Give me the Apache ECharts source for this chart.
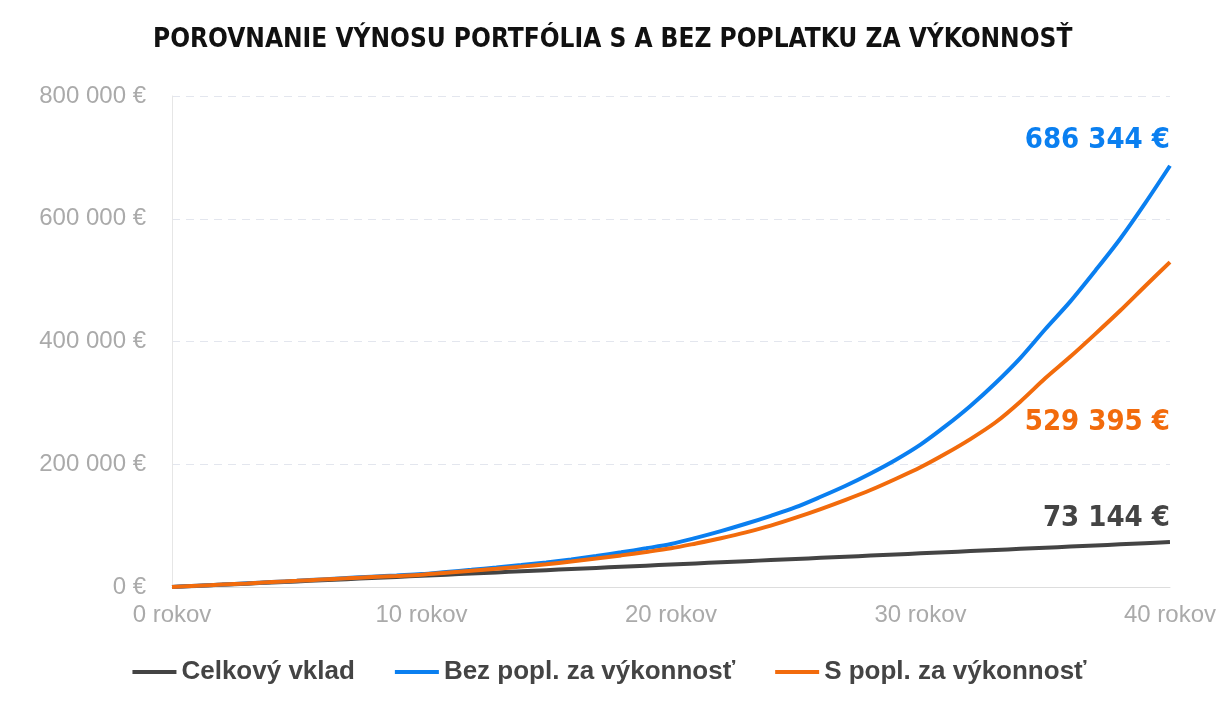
<!DOCTYPE html>
<html>
<head>
<meta charset="utf-8">
<script src="https://cdn.jsdelivr.net/npm/echarts@6/dist/echarts.min.js"></script>
<style>
  html, body { margin: 0; padding: 0; background: #fff; }
  #chart { width: 1219px; height: 714px; }
</style>
</head>
<body>
<div id="chart"></div>
<script>
// roky
const years = [0,1,2,3,4,5,6,7,8,9,10,11,12,13,14,15,16,17,18,19,20,21,22,23,24,25,26,27,28,29,30,31,32,33,34,35,36,37,38,39,40];

// Celkový vklad
const deposit = [0,1829,3657,5486,7314,9143,10972,12800,14629,16457,18286,20115,21943,23772,25600,27429,29258,31086,32915,34743,36572,38401,40229,42058,43886,45715,47544,49372,51201,53029,54858,56687,58515,60344,62172,64001,65830,67658,69487,71315,73144];

// Bez popl. za výkonnosť
const noFee = [0,1900,3900,6000,8100,10200,12400,14600,16800,18900,21000,24500,28000,31700,35700,40000,45000,50500,56500,63000,70000,80000,91000,103000,116000,130000,147000,165000,185000,207000,232000,262000,295000,332000,373000,420000,465000,515000,567000,625000,686344];

// S popl. za výkonnosť
const withFee = [0,1900,3900,5900,8000,10000,12100,14100,16100,18000,20000,23100,26300,29600,33200,37000,41500,46300,51500,57000,63000,71000,79500,89000,100000,113000,127000,142000,158000,176000,195000,217000,241000,268000,302000,340000,375000,412000,450000,490000,529395];

const fmt = (v) => Math.round(v).toString().replace(/\B(?=(\d{3})+(?!\d))/g, ' ') + ' €';

const chart = echarts.init(document.getElementById('chart'));
const condensed = 'DejaVu Sans Condensed';

// popisok len na poslednom bode
function withEndLabel(values, color, offset) {
  return values.map((v, i) => i === values.length - 1 ? {
    value: v,
    label: {
      show: true,
      position: 'top',
      align: 'right',
      offset: offset,
      formatter: fmt(v),
      color: color,
      fontFamily: condensed,
      fontWeight: 'bold',
      fontSize: 29
    }
  } : v);
}

function lineSeries(name, values, color, offset, z) {
  return {
    name: name,
    type: 'line',
    data: withEndLabel(values, color, offset),
    showSymbol: true,
    symbol: 'circle',
    symbolSize: 0.1,
    color: color,
    lineStyle: { width: 4 },
    smooth: 0.3,
    z: z
  };
}

chart.setOption({
  animation: false,
  title: {
    text: 'POROVNANIE VÝNOSU PORTFÓLIA S A BEZ POPLATKU ZA VÝKONNOSŤ',
    left: 148,
    top: 22,
    textStyle: { fontFamily: condensed, fontWeight: 'bold', fontSize: 26, color: '#111' }
  },
  legend: {
    bottom: 24,
    left: 'center',
    itemWidth: 44,
    itemHeight: 4,
    itemGap: 40,
    icon: 'rect',
    textStyle: { fontFamily: 'Liberation Sans', fontWeight: 'bold', fontSize: 26, color: '#444' },
    data: ['Celkový vklad', 'Bez popl. za výkonnosť', 'S popl. za výkonnosť']
  },
  grid: { left: 172, right: 48, top: 96, bottom: 127 },
  xAxis: {
    type: 'category',
    boundaryGap: false,
    data: years,
    axisLine: { lineStyle: { color: '#ddd' } },
    axisTick: { show: false },
    axisLabel: {
      interval: 9,
      formatter: (v) => v + ' rokov',
      color: '#aaa',
      fontFamily: 'Liberation Sans',
      fontSize: 24,
      margin: 16
    }
  },
  yAxis: {
    type: 'value',
    min: 0,
    max: 800000,
    interval: 200000,
    axisLine: { show: true, lineStyle: { color: '#e6e6e6' } },
    axisLabel: {
      formatter: fmt,
      color: '#aaa',
      fontFamily: 'Liberation Sans',
      fontSize: 24,
      margin: 26
    },
    splitLine: { lineStyle: { color: '#e3e6ee', type: [8, 6] } }
  },
  series: [
    lineSeries('Celkový vklad', deposit, '#444', [0, -4], 1),
    lineSeries('Bez popl. za výkonnosť', noFee, '#0a7ff0', [0, -6], 2),
    lineSeries('S popl. za výkonnosť', withFee, '#f26b0c', [0, 180], 3)
  ]
});
</script>
</body>
</html>
